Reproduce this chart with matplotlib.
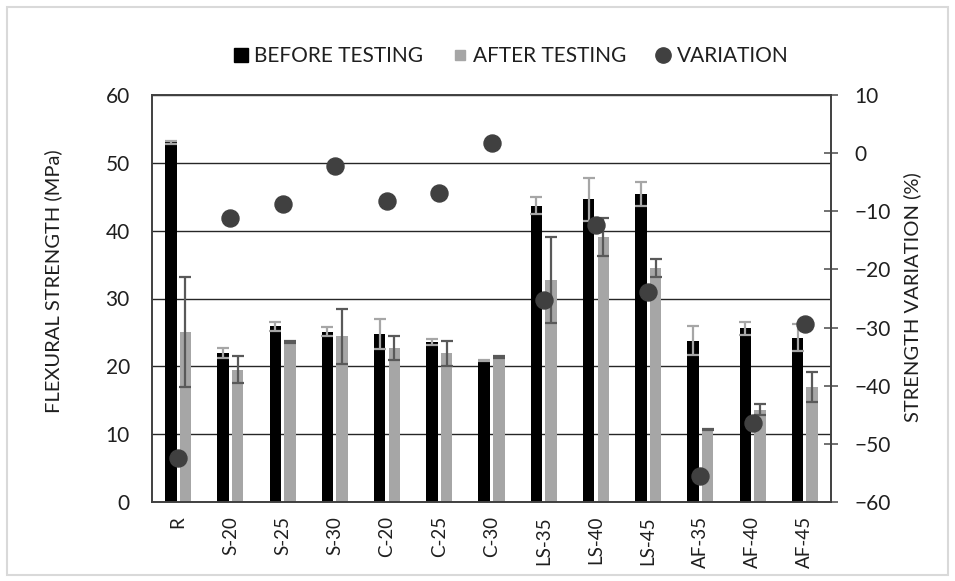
import matplotlib.pyplot as plt
from matplotlib.lines import Line2D
from matplotlib.patches import Rectangle
import numpy as np

plt.rcParams['font.family'] = ['Lato', 'DejaVu Sans']

mixes = ["R", "S-20", "S-25", "S-30", "C-20", "C-25", "C-30",
         "LS-35", "LS-40", "LS-45", "AF-35", "AF-40", "AF-45"]
before = [53.0, 22.0, 25.9, 25.1, 24.8, 23.6, 20.9, 43.7, 44.6, 45.4, 23.8, 25.6, 24.2]
before_err = [0.2, 0.7, 0.7, 0.7, 2.2, 0.5, 0.1, 1.2, 3.2, 1.8, 2.2, 1.0, 2.0]
after = [25.1, 19.5, 23.6, 24.4, 22.7, 21.9, 21.4, 32.7, 39.0, 34.5, 10.7, 13.6, 17.0]
after_err = [8.1, 2.0, 0.1, 4.1, 1.8, 1.9, 0.1, 6.3, 2.8, 1.3, 0.1, 0.8, 2.2]
variation = [-52.5, -11.2, -8.8, -2.2, -8.2, -6.9, 1.7, -25.2, -12.4, -23.9, -55.6, -46.4, -29.3]

txt = "#1f1f1f"

fig = plt.figure(figsize=(9.55, 5.81), dpi=100)
fig.patches.append(Rectangle((7 / 955, 6 / 581), 941 / 955, 568 / 581,
                             transform=fig.transFigure, fill=False,
                             edgecolor="#d9d9d9", linewidth=1.5))

ax = fig.add_axes([152 / 955, 79 / 581, 679 / 955, 407 / 581])
x = np.arange(len(mixes))
w = 0.22

ax.bar(x - 0.14, before, w, color="black", zorder=2,
       yerr=before_err, ecolor="#a6a6a6", capsize=4,
       error_kw=dict(elinewidth=1.6, capthick=1.6))
ax.bar(x + 0.14, after, w, color="#a6a6a6", zorder=2,
       yerr=after_err, ecolor="#595959", capsize=4,
       error_kw=dict(elinewidth=1.6, capthick=1.6))

ax.set_ylim(0, 60)
ax.set_xlim(-0.5, len(mixes) - 0.5)
ax.set_yticks(range(0, 61, 10))
ax.yaxis.grid(True, color="#262626", linewidth=1.0, zorder=0)
ax.set_axisbelow(True)
ax.tick_params(axis="y", length=0, pad=16, labelsize=15, labelcolor=txt)
ax.set_xticks(x)
ax.set_xticklabels(mixes, rotation=90, fontsize=13.5, color=txt)
ax.tick_params(axis="x", length=0, pad=10)
for s in ax.spines.values():
    s.set_color("#404040")
    s.set_linewidth(1.2)

ax2 = ax.twinx()
ax2.scatter(x, variation, s=150, color="#404040", zorder=3)
ax2.set_ylim(-60, 10)
ax2.set_yticks(range(-60, 11, 10))
ax2.tick_params(axis="y", direction="inout", length=10, width=1.2, color="#595959",
                pad=12, labelsize=15, labelcolor=txt)
for s in ax2.spines.values():
    s.set_color("#404040")
    s.set_linewidth(1.2)

# axis titles placed in figure pixels
fig.text(53 / 955, 1 - 281 / 581, "FLEXURAL STRENGTH (MPa)", rotation=90,
         ha="center", va="center", fontsize=14.5, color=txt)
fig.text(912 / 955, 1 - 297 / 581, "STRENGTH VARIATION (%)", rotation=90,
         ha="center", va="center", fontsize=14.5, color=txt)

handles = [
    Line2D([], [], marker="s", linestyle="", color="black", markersize=10),
    Line2D([], [], marker="s", linestyle="", color="#a6a6a6", markersize=7),
    Line2D([], [], marker="o", linestyle="", color="#404040", markersize=11),
]
fig.legend(handles, ["BEFORE TESTING", "AFTER TESTING", "VARIATION"],
           loc="center", bbox_to_anchor=(510 / 955, 1 - 56 / 581), ncol=3,
           frameon=False, fontsize=15, handletextpad=0.2, columnspacing=1.3,
           handlelength=0.9, labelcolor=txt)

fig.savefig("out.png", dpi=100)
plt.close(fig)
